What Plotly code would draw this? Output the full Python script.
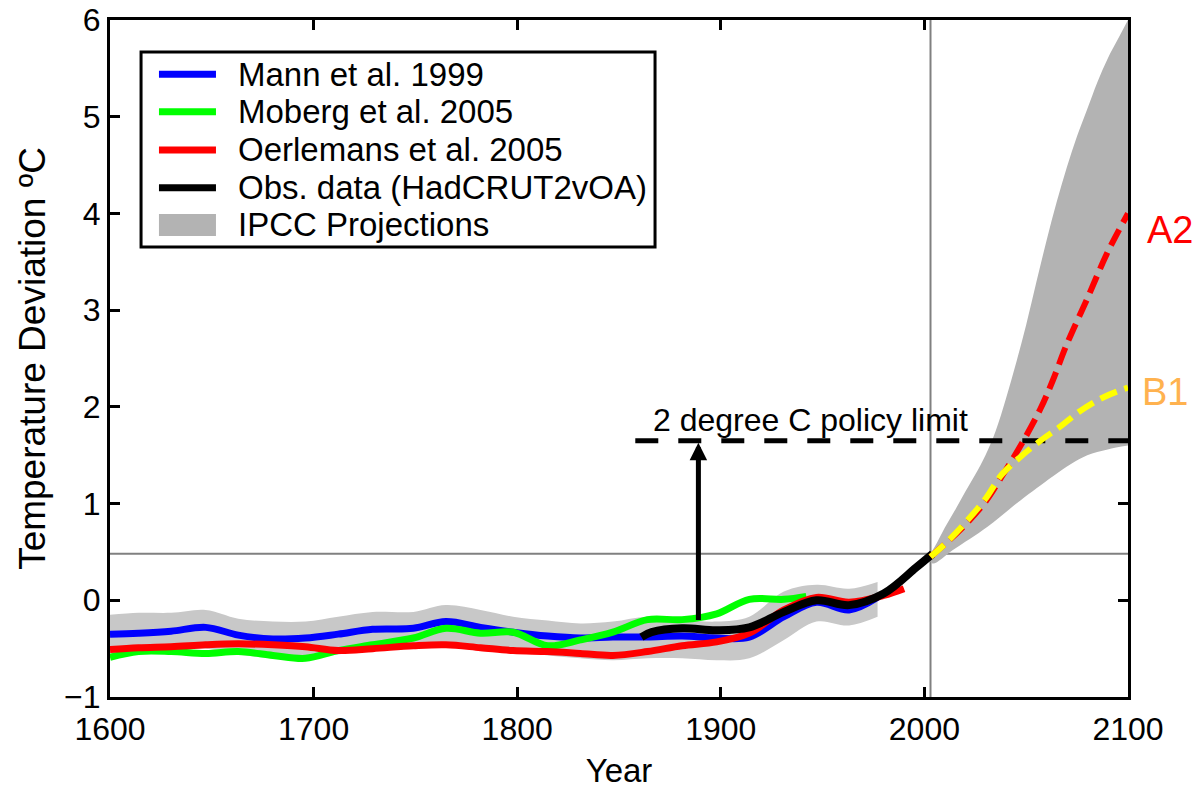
import plotly.graph_objects as go

# ---------------- data ----------------
mann_years = [1600, 1614, 1630, 1647, 1663, 1680, 1696, 1712, 1729, 1749, 1765, 1782,
              1798, 1815, 1831, 1847, 1864, 1881, 1898, 1914, 1931, 1947, 1963, 1977]
mann_temp = [-0.35, -0.34, -0.32, -0.28, -0.36, -0.40, -0.39, -0.35, -0.30, -0.29, -0.22, -0.28,
             -0.33, -0.37, -0.39, -0.38, -0.38, -0.37, -0.39, -0.38, -0.17, -0.02, -0.10, 0.03]
mann_upper = [-0.15, -0.13, -0.13, -0.10, -0.19, -0.22, -0.22, -0.17, -0.12, -0.12, -0.05, -0.10,
              -0.17, -0.21, -0.24, -0.22, -0.17, -0.20, -0.22, -0.17, 0.09, 0.16, 0.12, 0.19]
mann_lower = [-0.57, -0.55, -0.53, -0.50, -0.56, -0.60, -0.60, -0.56, -0.50, -0.48, -0.43, -0.47,
              -0.52, -0.57, -0.60, -0.62, -0.60, -0.60, -0.62, -0.60, -0.41, -0.22, -0.26, -0.17]

moberg_years = [1600, 1614, 1630, 1647, 1663, 1680, 1696, 1712, 1729, 1749, 1765, 1782,
                1798, 1815, 1831, 1847, 1864, 1881, 1898, 1914, 1931, 1942]
moberg_temp = [-0.59, -0.53, -0.53, -0.55, -0.53, -0.57, -0.60, -0.52, -0.46, -0.39, -0.29, -0.34,
               -0.33, -0.47, -0.41, -0.33, -0.20, -0.20, -0.14, 0.01, 0.01, 0.04]

oerlemans_years = [1600, 1614, 1630, 1647, 1663, 1680, 1696, 1712, 1729, 1749, 1765, 1782,
                   1798, 1815, 1831, 1847, 1864, 1881, 1898, 1914, 1931, 1947, 1963, 1980, 1990]
oerlemans_temp = [-0.51, -0.49, -0.48, -0.46, -0.45, -0.46, -0.48, -0.52, -0.50, -0.47, -0.46, -0.49,
                  -0.52, -0.53, -0.55, -0.57, -0.53, -0.47, -0.43, -0.34, -0.10, 0.03, -0.02, 0.05, 0.12]

obs_years = [1861, 1866, 1881, 1898, 1914, 1931, 1947, 1963, 1980, 1996, 2004]
obs_temp = [-0.38, -0.33, -0.29, -0.31, -0.28, -0.12, 0.00, -0.05, 0.07, 0.34, 0.48]

ipcc_upper_years = [2002, 2005, 2010, 2015, 2020, 2025, 2030, 2035, 2040, 2045, 2050,
                    2055, 2060, 2065, 2070, 2075, 2080, 2085, 2090, 2095, 2100]
ipcc_upper = [0.45, 0.55, 0.75, 0.93, 1.12, 1.30, 1.50, 1.75, 2.08, 2.45, 2.85,
              3.29, 3.72, 4.12, 4.48, 4.80, 5.08, 5.36, 5.60, 5.80, 6.00]
ipcc_lower_years = [2002, 2004, 2014, 2031, 2047, 2063, 2072, 2080, 2090, 2100]
ipcc_lower = [0.45, 0.38, 0.52, 0.76, 1.03, 1.28, 1.41, 1.50, 1.56, 1.60]

a2_years = [2003, 2010, 2020, 2030, 2038, 2047, 2057, 2063, 2070, 2080, 2090, 2100]
a2_temp = [0.45, 0.58, 0.78, 1.02, 1.28, 1.59, 1.98, 2.27, 2.65, 3.12, 3.60, 4.00]
b1_years = [2003, 2010, 2020, 2030, 2038, 2047, 2057, 2067, 2076, 2088, 2100]
b1_temp = [0.45, 0.58, 0.80, 1.05, 1.30, 1.48, 1.65, 1.80, 1.95, 2.10, 2.20]

policy_years = [1858, 2100]
policy_limit = [1.65, 1.65]
arrow_year = 1889
arrow_from = -0.22
arrow_to = 1.63
policy_text_year = 1944
policy_text_temp = 1.86

ref_year = 2003
ref_temp = 0.48

x_range = [1600, 2100]
y_range = [-1, 6]
x_ticks = [1600, 1700, 1800, 1900, 2000, 2100]
y_ticks = [-1, 0, 1, 2, 3, 4, 5, 6]

labels = ["Mann et al. 1999", "Moberg et al. 2005", "Oerlemans et al. 2005",
          "Obs. data (HadCRUT2vOA)", "IPCC Projections"]

FONT = "Liberation Sans, Arial, sans-serif"
HIST_BAND = "#C8C8C8"
PROJ_BAND = "#B3B3B3"
COLORS = ["#0000FF", "#00FF00", "#FF0000", "#000000", PROJ_BAND]

fig = go.Figure()

# historical uncertainty band (Mann et al.)
fig.add_trace(go.Scatter(x=mann_years, y=mann_lower, mode="lines",
                         line=dict(width=0, shape="spline", color=HIST_BAND),
                         showlegend=False, hoverinfo="skip"))
fig.add_trace(go.Scatter(x=mann_years, y=mann_upper, mode="lines", fill="tonexty",
                         fillcolor=HIST_BAND, line=dict(width=0, shape="spline", color=HIST_BAND),
                         showlegend=False, hoverinfo="skip"))

# IPCC projection band
fig.add_trace(go.Scatter(x=ipcc_lower_years, y=ipcc_lower, mode="lines",
                         line=dict(width=0, shape="spline", color=PROJ_BAND),
                         showlegend=False, hoverinfo="skip"))
fig.add_trace(go.Scatter(x=ipcc_upper_years, y=ipcc_upper, mode="lines", fill="tonexty",
                         fillcolor=PROJ_BAND, line=dict(width=0, shape="spline", color=PROJ_BAND),
                         name=labels[4], showlegend=False))

# reconstructions + observations
fig.add_trace(go.Scatter(x=mann_years, y=mann_temp, mode="lines", name=labels[0], showlegend=False,
                         line=dict(color=COLORS[0], width=7, shape="spline")))
fig.add_trace(go.Scatter(x=moberg_years, y=moberg_temp, mode="lines", name=labels[1], showlegend=False,
                         line=dict(color=COLORS[1], width=7, shape="spline")))
fig.add_trace(go.Scatter(x=oerlemans_years, y=oerlemans_temp, mode="lines", name=labels[2], showlegend=False,
                         line=dict(color=COLORS[2], width=7, shape="spline")))
fig.add_trace(go.Scatter(x=obs_years, y=obs_temp, mode="lines", name=labels[3], showlegend=False,
                         line=dict(color=COLORS[3], width=8, shape="spline")))

# policy limit
fig.add_trace(go.Scatter(x=policy_years, y=policy_limit, mode="lines", showlegend=False,
                         line=dict(color="#000000", width=5, dash="23px,20px")))

# scenarios
fig.add_trace(go.Scatter(x=a2_years, y=a2_temp, mode="lines", name="A2", showlegend=False,
                         line=dict(color="#FF0000", width=6, shape="spline", dash="18px,8px")))
fig.add_trace(go.Scatter(x=b1_years, y=b1_temp, mode="lines", name="B1", showlegend=False,
                         line=dict(color="#FFFF00", width=6, shape="spline", dash="18px,8px")))

# reference lines
fig.add_shape(type="line", xref="x", yref="paper", x0=ref_year, x1=ref_year, y0=0, y1=1,
              line=dict(color="#808080", width=2), layer="below")
fig.add_shape(type="line", xref="paper", yref="y", x0=0, x1=1, y0=ref_temp, y1=ref_temp,
              line=dict(color="#808080", width=2), layer="below")

# arrow + texts
fig.add_annotation(x=arrow_year, y=arrow_to, ax=arrow_year, ay=arrow_from, xref="x", yref="y",
                   axref="x", ayref="y", text="", showarrow=True, arrowhead=2, arrowsize=0.7,
                   arrowwidth=5, arrowcolor="#000000", standoff=0)
fig.add_annotation(x=policy_text_year, y=policy_text_temp, xref="x", yref="y",
                   text="2 degree C policy limit", showarrow=False,
                   font=dict(size=32, color="#000000", family=FONT))
fig.add_annotation(x=1.041, y=a2_temp[-1] - 0.17, xref="paper", yref="y", text="A2",
                   xanchor="center", yanchor="middle",
                   showarrow=False, font=dict(size=38, color="#FF0000", family=FONT))
fig.add_annotation(x=1.036, y=b1_temp[-1] - 0.05, xref="paper", yref="y", text="B1",
                   xanchor="center", yanchor="middle",
                   showarrow=False, font=dict(size=38, color="#FFB24F", family=FONT))

# ---- legend (drawn in paper coordinates) ----
LEG_X0, LEG_X1, LEG_Y0, LEG_Y1 = 0.0305, 0.5354, 0.6647, 0.9527
SAMPLE_X0, SAMPLE_X1, TEXT_X = 0.0481, 0.1041, 0.1238
ROW_Y = [0.9198, 0.8646, 0.8080, 0.7523, 0.6972]
fig.add_shape(type="rect", xref="paper", yref="paper", x0=LEG_X0, x1=LEG_X1, y0=LEG_Y0, y1=LEG_Y1,
              line=dict(color="#000000", width=3), fillcolor="#FFFFFF", layer="above")
for i, lab in enumerate(labels):
    if i < 4:
        fig.add_shape(type="line", xref="paper", yref="paper", x0=SAMPLE_X0, x1=SAMPLE_X1,
                      y0=ROW_Y[i], y1=ROW_Y[i], line=dict(color=COLORS[i], width=7), layer="above")
    else:
        fig.add_shape(type="rect", xref="paper", yref="paper", x0=SAMPLE_X0, x1=SAMPLE_X1,
                      y0=ROW_Y[i] - 0.0163, y1=ROW_Y[i] + 0.0163, line=dict(width=0),
                      fillcolor=COLORS[i], layer="above")
    fig.add_annotation(x=TEXT_X, y=ROW_Y[i], xref="paper", yref="paper", text=lab,
                       xanchor="left", yanchor="middle", showarrow=False,
                       font=dict(size=33, color="#000000", family=FONT))

axis_common = dict(showline=True, linecolor="#000000", linewidth=3, mirror="ticks",
                   ticks="inside", ticklen=10, tickwidth=3, tickcolor="#000000",
                   showgrid=False, zeroline=False, layer="below traces",
                   tickfont=dict(size=32, color="#000000", family=FONT))

fig.update_xaxes(range=x_range, tickvals=x_ticks, **axis_common, ticklabelstandoff=2,
                 title=dict(text="Year", font=dict(size=33, color="#000000", family=FONT), standoff=14))
fig.update_yaxes(range=y_range, tickvals=y_ticks, **axis_common,
                 title=dict(text="Temperature Deviation ºC",
                            font=dict(size=37, color="#000000", family=FONT), standoff=8))

fig.update_layout(
    width=1203, height=789,
    margin=dict(l=110, r=75, t=20, b=92, autoexpand=False),
    paper_bgcolor="#FFFFFF", plot_bgcolor="#FFFFFF",
    font=dict(family=FONT, size=32, color="#000000"),
    showlegend=False,
)

fig.write_html("out.html")
